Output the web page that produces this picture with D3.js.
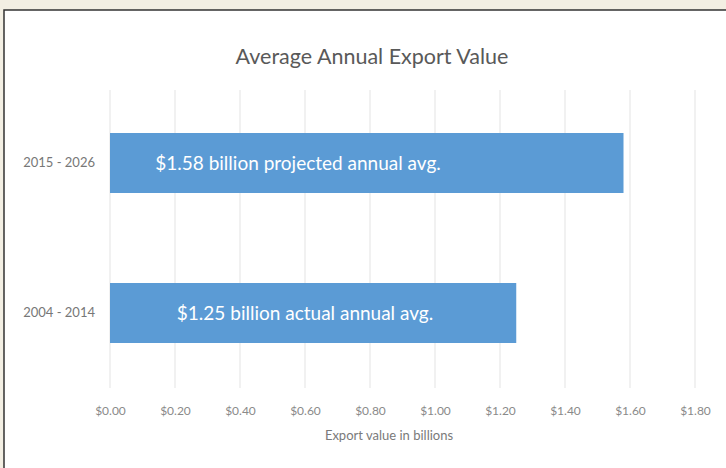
<!DOCTYPE html>
<html>
<head>
<meta charset="utf-8">
<script src="https://cdn.jsdelivr.net/npm/d3@7"></script>
<style>
  body { margin: 0; background: #f3efe3; }
  svg { display: block; }
</style>
</head>
<body>
<svg id="exportChart" width="726" height="468"></svg>
<script>
const periods = ['2015 - 2026', '2004 - 2014'];
const values = [1.58, 1.25];
const barLabels = ['$1.58 billion projected annual avg.', '$1.25 billion actual annual avg.'];
const ticks = [0, 0.2, 0.4, 0.6, 0.8, 1.0, 1.2, 1.4, 1.6, 1.8];

function drawExportChart(){
    const svg = d3.select('#exportChart');
    svg.selectAll('*').remove();

    const width = 726;
    const height = 468;

    // white panel with dark left / top border
    svg.append('rect')
        .attr('x', 4).attr('y', 10)
        .attr('width', width).attr('height', height)
        .attr('fill', '#fff')
        .attr('stroke', '#333')
        .attr('stroke-width', 1.5);

    const margin = {top: 90, left: 110};

    const x = d3.scaleLinear().domain([0, 1.8]).range([margin.left, margin.left + 585]);
    const y = d3.scaleBand().domain(periods).range([58, 418]).paddingInner(0.6).paddingOuter(0.5);

    svg.append('text')
        .attr('x', 372).attr('y', 64)
        .attr('text-anchor', 'middle')
        .style('font-family', 'Lato, sans-serif')
        .style('font-size', '21.5px')
        .style('fill', '#595959')
        .text('Average Annual Export Value');

    // gridlines
    svg.append('g').selectAll('line')
        .data(ticks)
        .join('line')
        .attr('x1', d => x(d)).attr('x2', d => x(d))
        .attr('y1', margin.top).attr('y2', 388)
        .attr('stroke', '#e3e3e3')
        .attr('stroke-width', 1);

    const xAxis = svg.append('g')
        .attr('transform', 'translate(0, 388)')
        .call(d3.axisBottom(x).tickValues(ticks).tickSize(0).tickPadding(18).tickFormat(d => '$' + d.toFixed(2)));
    xAxis.select('.domain').remove();
    xAxis.selectAll('text')
        .style('font-family', 'Lato, sans-serif')
        .style('font-size', '12px')
        .style('fill', '#8a8a8a');

    svg.append('text')
        .attr('x', 389).attr('y', 440)
        .attr('text-anchor', 'middle')
        .style('font-family', 'Lato, sans-serif')
        .style('font-size', '13px')
        .style('fill', '#7a7a7a')
        .text('Export value in billions');

    const yAxis = svg.append('g')
        .attr('transform', `translate(${margin.left}, 0)`)
        .call(d3.axisLeft(y).tickSize(0).tickPadding(15));
    yAxis.select('.domain').remove();
    yAxis.selectAll('text')
        .style('font-family', 'Lato, sans-serif')
        .style('font-size', '13px')
        .style('fill', '#777');

    svg.append('g').selectAll('rect')
        .data(values)
        .join('rect')
        .attr('x', x(0))
        .attr('y', (d, i) => y(periods[i]))
        .attr('width', d => x(d) - x(0))
        .attr('height', y.bandwidth())
        .attr('fill', '#5b9bd5');

    svg.append('g').selectAll('text')
        .data(barLabels)
        .join('text')
        .attr('x', (d, i) => i === 0 ? 298 : 305)
        .attr('y', (d, i) => y(periods[i]) + y.bandwidth() / 2)
        .attr('dy', '0.35em')
        .attr('text-anchor', 'middle')
        .style('font-family', 'Lato, sans-serif')
        .style('font-size', '19px')
        .style('fill', '#fff')
        .text(d => d);
}

drawExportChart();
</script>
</body>
</html>
